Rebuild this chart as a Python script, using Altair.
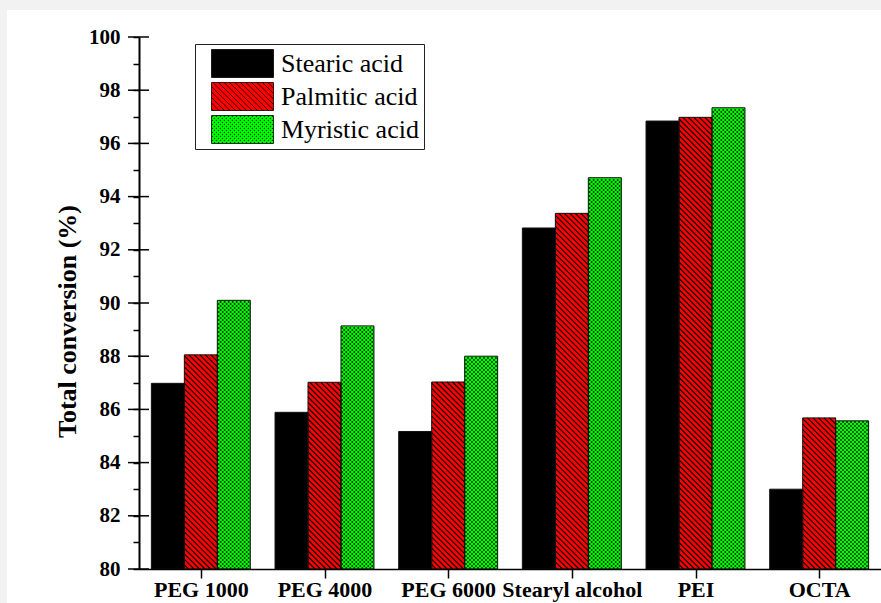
import json
import altair as alt
import pandas as pd

# ---------------- data ----------------
categories = ["PEG 1000", "PEG 4000", "PEG 6000", "Stearyl alcohol", "PEI", "OCTA"]
series_names = ["Stearic acid", "Palmitic acid", "Myristic acid"]
stearic = [86.98, 85.89, 85.17, 92.82, 96.84, 83.0]
palmitic = [88.05, 87.02, 87.03, 93.37, 96.98, 85.68]
myristic = [90.1, 89.14, 88.0, 94.71, 97.34, 85.57]
series_colors = ["#000000", "#ff0000", "#00ff00"]
y_major = list(range(80, 101, 2))
y_all = list(range(80, 101))

rows = []
for si, (name, vals) in enumerate(zip(series_names, [stearic, palmitic, myristic])):
    for ci, (cat, v) in enumerate(zip(categories, vals)):
        rows.append({"cat": cat, "ci": ci, "series": name, "si": si, "value": v})
df = pd.DataFrame(rows)
ticks_df = pd.DataFrame({"t": y_major})

# ---------------- layout ----------------
W, H = 742, 532
PX = W / 6.0          # px per category unit
PY = H / 20.0         # px per % unit
BW = 0.8 / 3          # bar width (category units)
GAP = 0.1
P = 5.5               # hatch period (px)
G = 2.0               # checker cell (px)

font = "Liberation Serif"
xscale = alt.Scale(domain=[0, 6], nice=False, zero=False)
yscale = alt.Scale(domain=[80, 100], nice=False, zero=False)

x_label_expr = f"{json.dumps(categories)}[floor(datum.value)]"
xaxis = alt.Axis(values=[i + 0.5 for i in range(len(categories))], labelExpr=x_label_expr,
                 title=None, grid=False, domainColor="black", domainWidth=1.5,
                 tickColor="black", tickWidth=1.5, tickSize=9, labelPadding=1,
                 labelFont=font, labelFontWeight="bold", labelFontSize=22, labelColor="black",
                 labelFlush=False, labelOverlap=False, labelBound=False, zindex=1)
yaxis = alt.Axis(values=y_all, format="d",
                 labelExpr="datum.value % 2 === 0 ? datum.label : ''",
                 title="Total conversion (%)", grid=False, domainColor="black", domainWidth=2,
                 tickColor="black", tickWidth=1.5, tickSize=6, labelPadding=13,
                 labelFont=font, labelFontWeight="bold", labelFontSize=21, labelColor="black",
                 titleFont=font, titleFontWeight="bold", titleFontSize=26, titleColor="black",
                 titleX=-72, titleY=284, titleAngle=270, titleAlign="center",
                 titleBaseline="middle", zindex=1)

# legend swatch paths (custom symbols, unit = half swatch width)
hh = 14 / 31.0
black_path = f"M-1,{-hh:.3f}H1V{hh:.3f}H-1Z"
red_path = black_path
s = P / 31.0
c = -(1 + hh)
while c <= 1 + hh:
    xs = max(-1.0, -hh - c)
    xe = min(1.0, hh - c)
    if xs < xe:
        red_path += f" M{xs:.3f},{xs + c:.3f}L{xe:.3f},{xe + c:.3f}"
    c += s
green_path = black_path
d = 0.5 / 31.0
for j in range(14):
    yy = -hh + (j * 2 + 0.7) / 31.0
    k = 0
    while True:
        xx = -1 + (k * 4 + (j % 2) * 2 + 0.7) / 31.0
        if xx + d > 1:
            break
        green_path += f" M{xx:.3f},{yy:.3f}h{d:.3f}v{d:.3f}h{-d:.3f}Z"
        k += 1
shape_paths = [black_path, red_path, green_path]

fillscale = alt.Scale(domain=series_names, range=series_colors)
shapescale = alt.Scale(domain=series_names, range=shape_paths)
legend = alt.Legend(title=None, orient="none", legendX=56, legendY=7, direction="vertical",
                    fillColor="white", strokeColor="#222", padding=5,
                    symbolSize=3844, symbolStrokeColor="black", symbolStrokeWidth=0.8,
                    symbolOffset=11, labelOffset=7, clipHeight=29, rowPadding=4,
                    labelFont=font, labelFontSize=26, labelColor="black", labelLimit=300,
                    labelExpr="datum.label + '   '")

# ---------------- layers ----------------
bg = alt.Chart(pd.DataFrame({"bg": [0]})).mark_rect(fill="white").encode(
    x=alt.value(-132), x2=alt.value(W), y=alt.value(-27), y2=alt.value(H + 34))

base = alt.Chart(df).transform_calculate(
    x0=f"datum.ci + {GAP} + datum.si * {BW}",
    x1=f"datum.ci + {GAP} + (datum.si + 1) * {BW}")

bars = base.mark_rect().encode(
    x=alt.X("x0:Q", scale=xscale, axis=xaxis),
    x2="x1:Q",
    y=alt.Y("value:Q", scale=yscale, axis=yaxis),
    y2=alt.datum(80),
    fill=alt.Fill("series:N", scale=fillscale, legend=legend))

px_calc = dict(X0=f"datum.x0 * {PX}", X1=f"datum.x1 * {PX}", T=f"(datum.value - 80) * {PY}")

hatch = (base.transform_filter("datum.si == 1")
         .transform_calculate(**px_calc)
         .transform_calculate(ks=f"sequence(ceil(datum.X0 / {P}), floor((datum.X1 + datum.T) / {P}) + 1)")
         .transform_flatten(["ks"], as_=["n"])
         .transform_calculate(k=f"datum.n * {P}")
         .transform_calculate(xs="max(datum.X0, datum.k - datum.T)", xe="min(datum.X1, datum.k)")
         .transform_filter("datum.xs < datum.xe")
         .transform_calculate(hx1=f"datum.xs / {PX}", hx2=f"datum.xe / {PX}",
                              hy1=f"80 + (datum.k - datum.xs) / {PY}",
                              hy2=f"80 + (datum.k - datum.xe) / {PY}")
         .mark_rule(color="black", strokeWidth=1.1)
         .encode(x=alt.X("hx1:Q", scale=xscale, axis=xaxis), x2="hx2:Q",
                 y=alt.Y("hy1:Q", scale=yscale, axis=yaxis), y2="hy2:Q"))

checker = (base.transform_filter("datum.si == 2")
           .transform_calculate(**px_calc)
           .transform_calculate(rs=f"sequence(0, floor(datum.T / {G}))")
           .transform_flatten(["rs"], as_=["r"])
           .transform_calculate(gx1=f"(datum.X0 + 0.5 + (datum.r % 2) * {G}) / {PX}",
                                gy=f"80 + (datum.r + 0.5) * {G} / {PY}")
           .mark_rule(color="black", strokeWidth=1.6, strokeDash=[1.6, 2.4])
           .encode(x=alt.X("gx1:Q", scale=xscale, axis=xaxis), x2="x1:Q",
                   y=alt.Y("gy:Q", scale=yscale, axis=yaxis)))

outlines = base.mark_rect(fillOpacity=0, stroke="#111", strokeWidth=1).encode(
    x=alt.X("x0:Q", scale=xscale, axis=xaxis), x2="x1:Q",
    y=alt.Y("value:Q", scale=yscale, axis=yaxis), y2=alt.datum(80))

major_ticks = alt.Chart(ticks_df).mark_rule(color="black", strokeWidth=1.5).encode(
    y=alt.Y("t:Q", scale=yscale, axis=yaxis), x=alt.value(-11), x2=alt.value(10))

legend_carrier = base.mark_point(filled=True, opacity=1, stroke="black", strokeWidth=0.8,
                                 clip=True).encode(
    x=alt.value(-2000), y=alt.value(-2000),
    fill=alt.Fill("series:N", scale=fillscale, legend=legend),
    shape=alt.Shape("series:N", scale=shapescale, legend=legend))

chart = alt.layer(bg, bars, hatch, checker, outlines, major_ticks, legend_carrier).properties(
    width=W, height=H,
    autosize=alt.AutoSizeParams(type="none"),
    padding={"left": 139, "top": 37, "right": 0, "bottom": 34},
    background="#f2f2f2",
).configure_view(stroke=None)

chart.save("out.html", embed_options={"renderer": "svg", "actions": False})
